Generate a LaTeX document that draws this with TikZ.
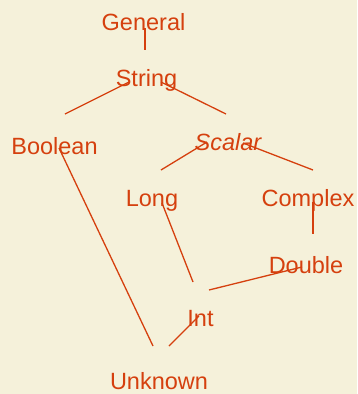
\documentclass[tikz,border=0pt]{standalone}
\usepackage{fontspec}
\setmainfont{Liberation Sans}
\definecolor{bg}{HTML}{F5F1DA}
\definecolor{ink}{HTML}{D5400E}
\begin{document}
\begin{tikzpicture}[x=1pt,y=-1pt,
  lbl/.style={anchor=base,inner sep=0pt,text=ink,font=\fontsize{23.5}{26}\selectfont},
  edge/.style={draw=ink,line width=1.3pt}]
\fill[bg] (0,0) rectangle (357,394);
\useasboundingbox (0,0) rectangle (357,394);
\node[lbl] (general) at (143.5,30) {General};
\node[lbl] (string) at (146.5,86) {String};
\node[lbl] (boolean) at (54.5,154) {Boolean};
\node[lbl,font=\fontsize{23.5}{26}\selectfont\itshape] (scalar) at (228,150) {Scalar};
\node[lbl] (long) at (152,206) {Long};
\node[lbl] (complex) at (308,206) {Complex};
\node[lbl] (double) at (306,273) {Double};
\node[lbl] (int) at (200.5,326) {Int};
\node[lbl] (unknown) at (159,389) {Unknown};
% connector end points
\coordinate (g1) at (145,28); \coordinate (s0) at (145,50);
\coordinate (s1) at (129,82); \coordinate (b0) at (65,114);
\coordinate (s2) at (161,82); \coordinate (sc0) at (226,114);
\coordinate (sc1) at (207,142); \coordinate (l0) at (161,170);
\coordinate (sc2) at (243,143); \coordinate (c0) at (313,170);
\coordinate (b1) at (59,148); \coordinate (u0) at (153,346);
\coordinate (l1) at (162,203); \coordinate (i0) at (193,282);
\coordinate (c1) at (313,202); \coordinate (d0) at (313,234);
\coordinate (d1) at (302,267); \coordinate (i1) at (209,290);
\coordinate (i2) at (199,316); \coordinate (u1) at (169,346);
\draw[edge] (g1) -- (s0);
\draw[edge] (s1) -- (b0);
\draw[edge] (s2) -- (sc0);
\draw[edge] (sc1) -- (l0);
\draw[edge] (sc2) -- (c0);
\draw[edge] (b1) -- (u0);
\draw[edge] (l1) -- (i0);
\draw[edge] (c1) -- (d0);
\draw[edge] (d1) -- (i1);
\draw[edge] (i2) -- (u1);
\end{tikzpicture}
\end{document}
